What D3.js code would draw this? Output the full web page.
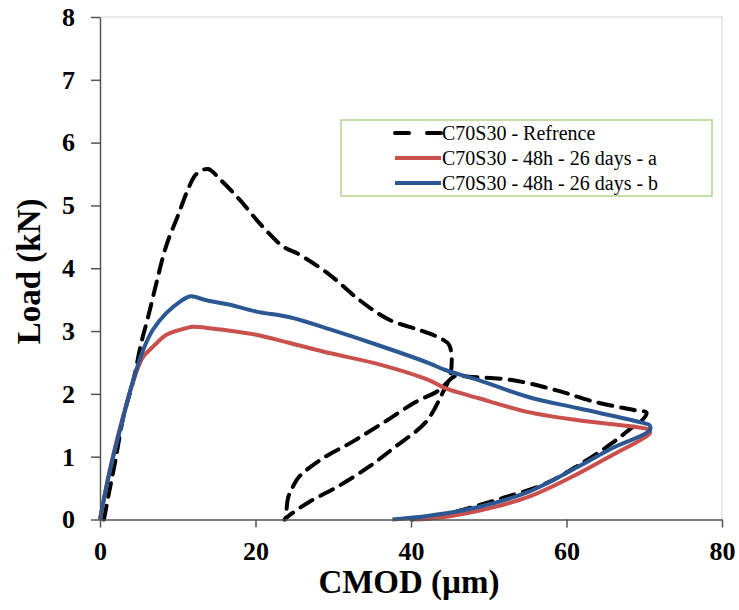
<!DOCTYPE html>
<html>
<head>
<meta charset="utf-8">
<script src="https://cdn.jsdelivr.net/npm/d3@7"></script>
<style>
  body { margin: 0; background: #fff; }
  text { font-family: "Liberation Serif", "Times New Roman", serif; }
</style>
</head>
<body>
<div id="chart"></div>
<script>
// CMOD (um) / Load (kN)
const refX = [0.5, 1.2, 2.0, 3.0, 4.3, 5.3, 6.2, 7.3, 8.5, 10.0, 11.5, 12.4, 13.9, 15.4, 17.9, 20.5, 23.5, 25.6, 29.5, 33.3, 37.2, 41.0, 43.5, 44.9, 45.1,
  44.0, 41.9, 38.0, 34.6, 30.8, 26.9, 24.5, 23.7,
  23.8, 24.2, 24.8, 25.6, 28.6, 32.5, 36.3, 40.6, 43.5, 44.8, 45.6,
  47.8, 53.0, 58.6, 63.7, 68.8, 70.3,
  69.5, 68.3, 65.8, 61.5, 57.3, 52.0, 48.0, 45.0, 42.0, 40.0];
const refY = [0.0, 0.45, 0.95, 1.63, 2.22, 2.81, 3.23, 3.79, 4.35, 4.83, 5.31, 5.50, 5.58, 5.42, 5.10, 4.72, 4.35, 4.22, 3.90, 3.50, 3.18, 3.02, 2.90, 2.78, 2.32,
  2.00, 1.55, 1.16, 0.84, 0.54, 0.28, 0.08, 0.0,
  0.0, 0.35, 0.52, 0.68, 0.97, 1.24, 1.53, 1.87, 2.05, 2.20, 2.28,
  2.27, 2.22, 2.06, 1.87, 1.74, 1.70,
  1.55, 1.45, 1.21, 0.86, 0.57, 0.35, 0.20, 0.10, 0.03, 0.0];

const aX = [0, 1.28, 3.0, 4.27, 5.0, 5.55, 6.8, 8.55, 10.3, 12.0, 13.7, 15.8, 20.1, 24.4, 29.5, 35.9, 42.3, 44.4, 48.7, 55.1, 61.5, 70.1, 70.7,
  70.7, 65.8, 61.5, 55.1, 48.7, 42.3, 40.5];
const aY = [0, 0.80, 1.66, 2.20, 2.45, 2.59, 2.75, 2.94, 3.02, 3.07, 3.05, 3.02, 2.94, 2.81, 2.65, 2.47, 2.22, 2.09, 1.93, 1.71, 1.58, 1.45, 1.42,
  1.37, 1.02, 0.73, 0.36, 0.14, 0.01, 0.0];

const bX = [0, 1.28, 3.0, 4.27, 5.55, 6.8, 8.55, 10.3, 11.5, 12.0, 13.7, 16.7, 20.1, 24.4, 29.5, 35.9, 42.3, 44.4, 48.7, 55.1, 61.5, 70.1, 70.7,
  70.7, 65.8, 61.5, 55.1, 48.7, 42.3, 37.6];
const bY = [0, 0.78, 1.63, 2.22, 2.70, 3.02, 3.29, 3.47, 3.55, 3.55, 3.49, 3.42, 3.31, 3.22, 3.03, 2.77, 2.49, 2.38, 2.22, 1.95, 1.77, 1.53, 1.50,
  1.42, 1.13, 0.84, 0.44, 0.20, 0.06, 0.0];

const seriesNames = ["C70S30 - Refrence", "C70S30 - 48h - 26 days - a", "C70S30 - 48h - 26 days - b"];
const xTicks = [0, 20, 40, 60, 80];
const yTicks = [0, 1, 2, 3, 4, 5, 6, 7, 8];

const width = 739, height = 610;
const margin = {top: 17, right: 17, bottom: 90, left: 100};

const x = d3.scaleLinear().domain([0, 80]).range([margin.left, width - margin.right]);
const y = d3.scaleLinear().domain([0, 8]).range([height - margin.bottom - 0.5, margin.top]);

const svg = d3.select("#chart").append("svg")
    .attr("width", width)
    .attr("height", height);

// faint plot-area frame (top and right)
svg.append("path")
    .attr("d", `M${x(0)},${y(8)}H${x(80)}V${y(0)}`)
    .attr("fill", "none")
    .attr("stroke", "#e2e2e2")
    .attr("stroke-width", 1.5);

const series = [
  {name: seriesNames[0], xs: refX, ys: refY, color: "#000", dash: "14,9"},
  {name: seriesNames[1], xs: aX, ys: aY, color: "#c9504d", dash: null},
  {name: seriesNames[2], xs: bX, ys: bY, color: "#2b5893", dash: null}
];

const line = d3.line()
    .x(d => x(d[0]))
    .y(d => y(d[1]))
    .curve(d3.curveCatmullRom.alpha(0.5));

svg.append("g")
  .selectAll("path")
  .data(series)
  .join("path")
    .attr("d", s => line(d3.zip(s.xs, s.ys)))
    .attr("fill", "none")
    .attr("stroke", s => s.color)
    .attr("stroke-width", 4)
    .attr("stroke-linejoin", "round")
    .attr("stroke-linecap", s => s.dash ? "round" : "butt")
    .attr("stroke-dasharray", s => s.dash);

// axes
const xAxis = svg.append("g")
    .attr("transform", `translate(0,${y(0)})`)
    .call(d3.axisBottom(x).tickValues(xTicks).tickSize(8).tickSizeOuter(0).tickPadding(14));
const yAxis = svg.append("g")
    .attr("transform", `translate(${x(0)},0)`)
    .call(d3.axisLeft(y).tickValues(yTicks).tickSize(9).tickSizeOuter(0).tickPadding(16));

[xAxis, yAxis].forEach(g => {
  g.select(".domain").attr("stroke", "#555").attr("stroke-width", 1.5);
  g.selectAll(".tick line").attr("stroke", "#555").attr("stroke-width", 1.5);
  g.selectAll(".tick text")
    .attr("fill", "#000")
    .style("font-family", "'Liberation Serif', serif")
    .style("font-weight", "bold")
    .style("font-size", "26px");
});

// axis titles
svg.append("text")
    .attr("x", (x(0) + x(80)) / 2 - 2)
    .attr("y", 593)
    .attr("text-anchor", "middle")
    .style("font-weight", "bold")
    .style("font-size", "33px")
    .text("CMOD (\u00b5m)");

svg.append("text")
    .attr("transform", `translate(40,${y(3.95)}) rotate(-90)`)
    .attr("text-anchor", "middle")
    .style("font-weight", "bold")
    .style("font-size", "33px")
    .text("Load (kN)");

// legend
const legend = svg.append("g").attr("transform", "translate(341,120)");
legend.append("rect")
    .attr("width", 371)
    .attr("height", 76)
    .attr("fill", "#fff")
    .attr("stroke", "#b3d38a")
    .attr("stroke-width", 1.5);

const item = legend.selectAll("g.item")
  .data(series)
  .join("g")
    .attr("class", "item")
    .attr("transform", (d, i) => `translate(0,${13 + i * 25})`);

item.append("line")
    .attr("x1", 54).attr("x2", 100)
    .attr("stroke", d => d.color)
    .attr("stroke-width", 4)
    .attr("stroke-linecap", d => d.dash ? "round" : "butt")
    .attr("stroke-dasharray", d => d.dash ? "14,18" : null);

item.append("text")
    .attr("x", 101)
    .attr("dy", "0.35em")
    .style("font-size", "20px")
    .text(d => d.name);
</script>
</body>
</html>
